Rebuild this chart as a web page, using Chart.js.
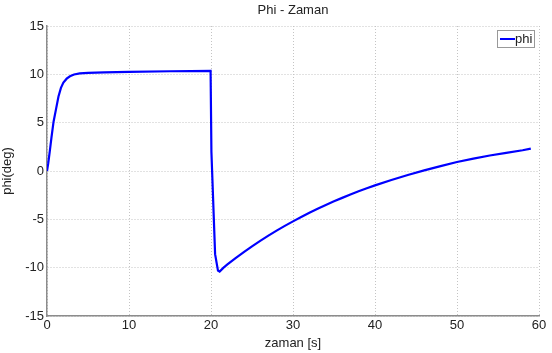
<!DOCTYPE html>
<html>
<head>
<meta charset="utf-8">
<title>Phi - Zaman</title>
<script src="https://cdn.jsdelivr.net/npm/chart.js@4.4.1/dist/chart.umd.min.js"></script>
<style>
  html, body { margin: 0; padding: 0; background: #fff; }
  #wrap { width: 552px; height: 353px; position: relative; }
</style>
</head>
<body>
<div id="wrap"><canvas id="phiChart"></canvas></div>
<script>
// values
const zaman = [0, 0.15, 0.35, 0.55, 0.8, 1.1, 1.4, 1.7, 2.0, 2.4, 2.8, 3.3, 4, 5, 7, 10, 15, 19.95,
  20.05, 20.5, 20.85, 21.05, 21.5, 22, 23, 24, 25, 26, 27, 28, 29, 30, 31, 32, 33, 34, 35, 36, 37, 38, 39,
  40, 42, 44, 46, 48, 50, 52, 54, 56, 58, 59];
const phi = [0, 0.8, 2.1, 3.5, 5.1, 6.4, 7.7, 8.6, 9.15, 9.55, 9.8, 9.98, 10.1, 10.15, 10.2, 10.25, 10.32, 10.36,
  2.0, -8.6, -10.3, -10.4, -10.02, -9.67, -9.02, -8.4, -7.8, -7.23, -6.69, -6.17, -5.68, -5.21, -4.76, -4.32, -3.91, -3.51, -3.14, -2.78, -2.43, -2.1, -1.79,
  -1.49, -0.93, -0.41, 0.06, 0.5, 0.93, 1.28, 1.6, 1.88, 2.15, 2.32];
const xTicks = [0, 10, 20, 30, 40, 50, 60];
const yTicks = [-15, -10, -5, 0, 5, 10, 15];

const FONT = "'Liberation Sans', Arial, sans-serif";
const TXT = '#222';

// title centred over the plot area, legend box inside top right (matlab style)
const matlabBits = {
  id: 'matlabBits',
  afterDraw(chart) {
    const c = chart.ctx, a = chart.chartArea;
    c.save();
    c.font = '13px ' + FONT;
    c.fillStyle = TXT;
    c.textAlign = 'center';
    c.textBaseline = 'middle';
    c.fillText('Phi - Zaman', (a.left + a.right) / 2, 10);

    const ds = chart.data.datasets[0];
    const bx = 497, by = 30, bw = 37, bh = 17;
    c.fillStyle = '#fff';
    c.fillRect(bx, by, bw, bh);
    c.strokeStyle = '#999';
    c.lineWidth = 1;
    c.strokeRect(bx + 0.5, by + 0.5, bw, bh);
    c.strokeStyle = ds.borderColor;
    c.lineWidth = 2;
    c.beginPath();
    c.moveTo(bx + 3, by + 9);
    c.lineTo(bx + 18, by + 9);
    c.stroke();
    c.fillStyle = TXT;
    c.textAlign = 'left';
    c.fillText(ds.label, bx + 18, by + 9);
    c.restore();
  }
};

const ctx = document.getElementById('phiChart').getContext('2d');
new Chart(ctx, {
  type: 'line',
  data: {
    datasets: [{
      label: 'phi',
      data: zaman.map((t, i) => ({ x: t, y: phi[i] })),
      borderColor: '#0000ff',
      borderWidth: 2.2,
      pointRadius: 0,
      tension: 0,
      fill: false
    }]
  },
  options: {
    responsive: true,
    maintainAspectRatio: false,
    animation: false,
    layout: { padding: { top: 26, right: 13, left: 0, bottom: 0 } },
    plugins: {
      legend: { display: false },
      title: { display: false },
      tooltip: { enabled: false }
    },
    scales: {
      x: {
        type: 'linear',
        min: 0,
        max: 60,
        afterBuildTicks: s => { s.ticks = xTicks.map(v => ({ value: v })); },
        afterFit: s => { s.height = 37; },
        grid: { color: '#c4c4c4', lineWidth: 1, drawTicks: false },
        border: { color: '#8c8c8c', width: 1.5, dash: [1, 2] },
        ticks: { color: TXT, font: { family: FONT, size: 13 }, padding: 2, maxRotation: 0 },
        title: { display: true, text: 'zaman [s]', color: TXT, font: { family: FONT, size: 13 }, padding: { top: 0, bottom: 2 } }
      },
      y: {
        min: -15,
        max: 15,
        afterBuildTicks: s => { s.ticks = yTicks.map(v => ({ value: v })); },
        afterFit: s => { s.width = 47; },
        grid: { color: '#c4c4c4', lineWidth: 1, drawTicks: false },
        border: { color: '#8c8c8c', width: 1.5, dash: [1, 2] },
        ticks: { color: TXT, font: { family: FONT, size: 13 }, padding: 3 },
        title: { display: true, text: 'phi(deg)', color: TXT, font: { family: FONT, size: 13 }, padding: { top: 0, bottom: 4 } }
      }
    }
  },
  plugins: [matlabBits]
});
</script>
</body>
</html>
